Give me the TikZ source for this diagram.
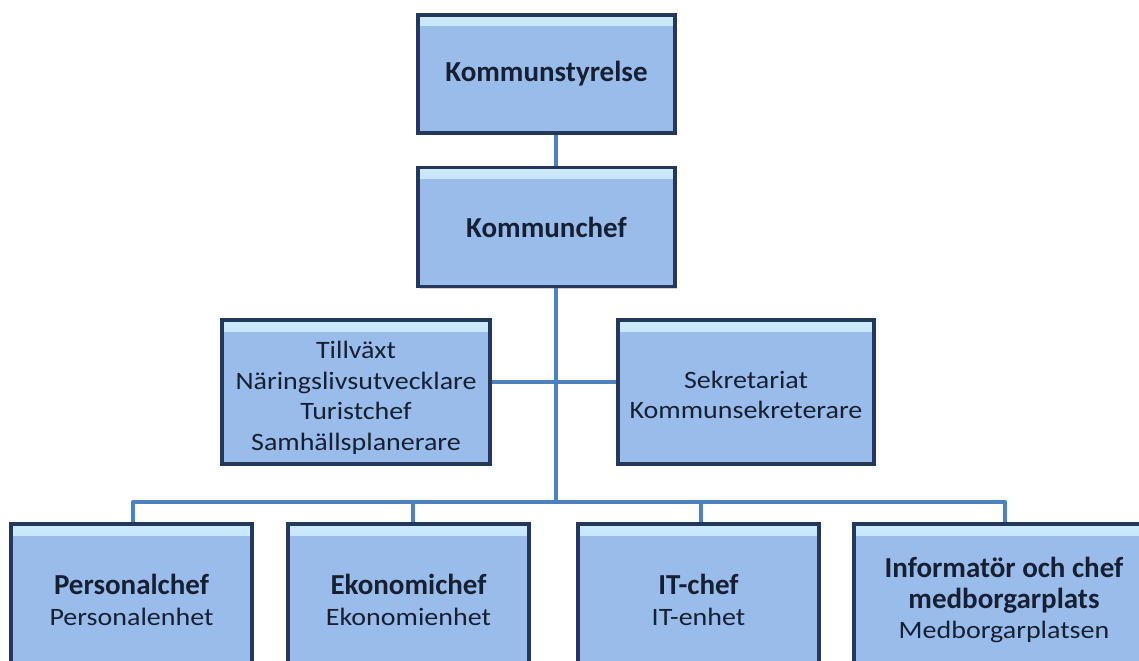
\documentclass[tikz,border=0pt]{standalone}
\usepackage{fontspec}
\setmainfont{Carlito}
\newfontfamily\regfont[FakeStretch=1.12]{Carlito}
\usetikzlibrary{shadows}
\definecolor{mainc}{RGB}{153,188,234}
\definecolor{hic}{RGB}{205,235,252}
\definecolor{bordc}{RGB}{36,56,92}
\definecolor{linec}{RGB}{79,129,189}
\definecolor{textc}{RGB}{22,32,52}
\newcommand\cbold{\fontsize{29bp}{35bp}\rmfamily\bfseries\selectfont}
\newcommand\creg{\fontsize{25bp}{30.5bp}\regfont\selectfont}
\tikzset{
  orgbox/.style={rectangle, draw=bordc, line width=3.5bp, fill=mainc, inner sep=0pt,
    align=center, text=textc, font=\creg,
    drop shadow={opacity=0.35, shadow xshift=2bp, shadow yshift=-2bp},
    path picture={\fill[top color=hic, bottom color=mainc]
      ([yshift=1bp]path picture bounding box.north west) rectangle
      ([yshift=-11bp]path picture bounding box.north east);}},
  boxtext/.style={align=center, text=textc, font=\creg, inner sep=0pt},
  conn/.style={draw=linec, line width=4.5bp}
}
\begin{document}
\begin{tikzpicture}[x=1bp,y=-1bp]
\useasboundingbox (0,0) rectangle (1139,661);
\clip (0,0) rectangle (1139,661);
% coordinates for connector lines
\coordinate (trunk) at (556,0);
\coordinate (midy) at (0,382);
\coordinate (busy) at (0,502);
% nodes
\node[orgbox, minimum width=257bp, minimum height=118bp] (ks) at (546.5,74) {\cbold Kommunstyrelse};
\node[orgbox, minimum width=257bp, minimum height=119bp] (kc) at (546.5,227) {\cbold Kommunchef};
\node[orgbox, minimum width=268bp, minimum height=144bp,
  label={[boxtext, yshift=-6bp]center:Tillväxt\\Näringslivsutvecklare\\Turistchef\\Samhällsplanerare}] (till) at (356,392) {};
\node[orgbox, minimum width=256bp, minimum height=144bp,
  label={[boxtext, yshift=-3bp]center:Sekretariat\\Kommunsekreterare}] (sek) at (746,392) {};
\node[orgbox, minimum width=241bp, minimum height=152bp] (pers) at (131.5,600) {{\cbold Personalchef}\\Personalenhet};
\node[orgbox, minimum width=241bp, minimum height=152bp] (eko) at (408.5,600) {{\cbold Ekonomichef}\\Ekonomienhet};
\node[orgbox, minimum width=241bp, minimum height=152bp] (it) at (698.5,600) {{\cbold IT-chef}\\IT-enhet};
\node[orgbox, minimum width=300bp, minimum height=152bp] (info) at (1004,600) {{\cbold Informatör och chef}\\{\cbold medborgarplats}\\Medborgarplatsen};
% connectors
\coordinate (p1) at (133,0);
\coordinate (p2) at (413,0);
\coordinate (p3) at (701,0);
\coordinate (p4) at (1005,0);
\draw[conn] (ks.south -| trunk) -- (kc.north -| trunk);
\draw[conn] (kc.south -| trunk) -- (busy -| trunk);
\draw[conn] (till.east |- midy) -- (sek.west |- midy);
\draw[conn, line join=round] (pers.north -| p1) -- (busy -| p1) -- (busy -| p4) -- (info.north -| p4);
\draw[conn] (busy -| p2) -- (eko.north -| p2);
\draw[conn] (busy -| p3) -- (it.north -| p3);
\end{tikzpicture}
\end{document}
